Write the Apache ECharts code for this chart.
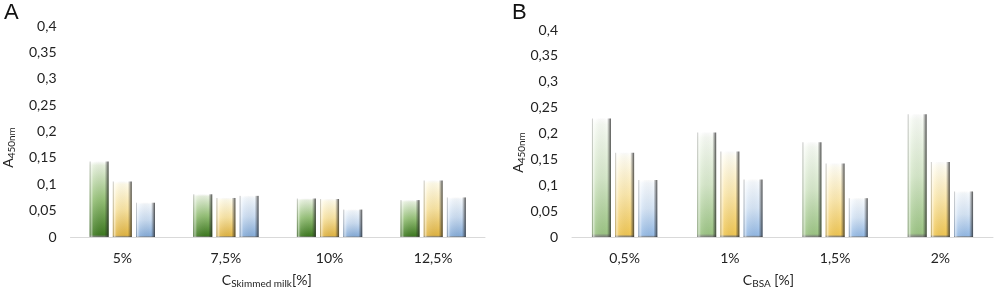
<!DOCTYPE html>
<html>
<head>
<meta charset="utf-8">
<script src="https://cdn.jsdelivr.net/npm/echarts@6/dist/echarts.min.js"></script>
<style>
  html, body { margin: 0; padding: 0; background: #fff; }
  #chart { width: 996px; height: 294px; }
</style>
</head>
<body>
<div id="chart"></div>
<script>
// panel A: skimmed milk
const catsA = ['5%', '7,5%', '10%', '12,5%'];
const greenA = [0.143, 0.081, 0.073, 0.070];
const yellowA = [0.105, 0.074, 0.072, 0.107];
const blueA = [0.065, 0.078, 0.052, 0.075];

// panel B: BSA
const catsB = ['0,5%', '1%', '1,5%', '2%'];
const greenB = [0.229, 0.202, 0.183, 0.237];
const yellowB = [0.163, 0.165, 0.142, 0.145];
const blueB = [0.110, 0.111, 0.075, 0.088];

const yTicks = { min: 0, max: 0.4, interval: 0.05 };

const FONT = 'Lato, "Open Sans", sans-serif';

const myChart = echarts.init(document.getElementById('chart'), null, { renderer: 'canvas' });

// vertical fill: pale cap at top, deeper colour at the bottom
const vFill = (top, mid, bottom) => new echarts.graphic.LinearGradient(0, 0, 0, 1, [
  { offset: 0, color: '#ffffff' },
  { offset: 0.05, color: top },
  { offset: 0.5, color: mid },
  { offset: 0.97, color: bottom },
  { offset: 1, color: '#777' }
]);

// horizontal bevel: light left edge, dark right edge
const bevel = new echarts.graphic.LinearGradient(0, 0, 1, 0, [
  { offset: 0, color: 'rgba(90,90,90,0.35)' },
  { offset: 0.08, color: 'rgba(255,255,255,0.55)' },
  { offset: 0.2, color: 'rgba(255,255,255,0.1)' },
  { offset: 0.8, color: 'rgba(0,0,0,0)' },
  { offset: 0.88, color: 'rgba(40,40,40,0.3)' },
  { offset: 1, color: 'rgba(40,40,40,0.8)' }
]);

const paletteA = [
  vFill('#e6f0dd', '#96c178', '#3f7a22'),
  vFill('#fffbe8', '#f8e3a2', '#e0b443'),
  vFill('#f2f7fc', '#cadcf1', '#86acd8')
];
const paletteB = [
  vFill('#f6faf3', '#d5e7c9', '#9cc484'),
  vFill('#fffdf2', '#fbe7ab', '#efc655'),
  vFill('#f5f9fd', '#d5e4f5', '#94b9e4')
];

const fmt = v => String(+v.toFixed(2)).replace('.', ',');

function xAxes(gridIndex, cats, name, namePad) {
  return [
    {
      type: 'category', gridIndex, data: cats,
      axisLine: { lineStyle: { color: '#d9d9d9', width: 1 } },
      axisTick: { show: false },
      axisLabel: { color: '#222', fontSize: 14, fontFamily: FONT, margin: 14 },
      name, nameLocation: 'middle', nameGap: 35,
      nameTextStyle: {
        color: '#222', fontSize: 14, fontFamily: FONT, padding: namePad,
        rich: {
          c: { fontSize: 14, fontFamily: FONT, color: '#222' },
          s: { fontSize: 10, fontFamily: FONT, color: '#222', padding: [7, 0, 0, 0] }
        }
      }
    },
    { type: 'category', gridIndex, data: cats, show: false }
  ];
}

function yAxis(gridIndex, nameGap, namePad) {
  return {
    type: 'value', gridIndex, ...yTicks,
    axisLine: { show: false }, axisTick: { show: false }, splitLine: { show: false },
    axisLabel: { color: '#222', fontSize: 14, fontFamily: FONT, margin: 14, formatter: fmt },
    name: '{c|A}{s|450nm}', nameLocation: 'middle', nameGap, nameRotate: 90,
    nameTextStyle: {
      padding: namePad,
      rich: {
        c: { fontSize: 14, fontFamily: FONT, color: '#222' },
        s: { fontSize: 10, fontFamily: FONT, color: '#222', padding: [7, 0, 0, 0] }
      }
    }
  };
}

function barSeries(xMain, xOver, yIdx, arrays, palette) {
  const out = [];
  arrays.forEach((data, i) => {
    out.push({
      type: 'bar', xAxisIndex: xMain, yAxisIndex: yIdx, data,
      barWidth: 19, barGap: '22%',
      itemStyle: { color: palette[i] }
    });
  });
  arrays.forEach(data => {
    out.push({
      type: 'bar', xAxisIndex: xOver, yAxisIndex: yIdx, data, silent: true,
      barWidth: 19, barGap: '22%',
      itemStyle: { color: bevel }
    });
  });
  return out;
}

const option = {
  animation: false,
  textStyle: { fontFamily: FONT },
  grid: [
    { left: 67, right: 511, top: 26, bottom: 55 },
    { left: 572, right: 3, top: 30, bottom: 55 }
  ],
  xAxis: [
    ...xAxes(0, catsA, '{c|C}{s|Skimmed milk}{c|[%]}', [0, 22, 0, 0]),
    ...xAxes(1, catsB, '{c|C}{s|BSA}{c| [%]}', [0, 28, 0, 0])
  ],
  yAxis: [yAxis(0, 54, [0, 32, 0, 0]), yAxis(1, 44, [0, 38, 0, 0])],
  series: [
    ...barSeries(0, 1, 0, [greenA, yellowA, blueA], paletteA),
    ...barSeries(2, 3, 1, [greenB, yellowB, blueB], paletteB)
  ],
  graphic: [
    { type: 'text', left: 4, top: 2, style: { text: 'A', fontSize: 22, fontFamily: '"Liberation Sans", Arial, sans-serif', fill: '#111' } },
    { type: 'text', left: 512, top: 2, style: { text: 'B', fontSize: 22, fontFamily: '"Liberation Sans", Arial, sans-serif', fill: '#111' } }
  ]
};

myChart.setOption(option);
window.addEventListener('resize', () => myChart.resize());
</script>
</body>
</html>
